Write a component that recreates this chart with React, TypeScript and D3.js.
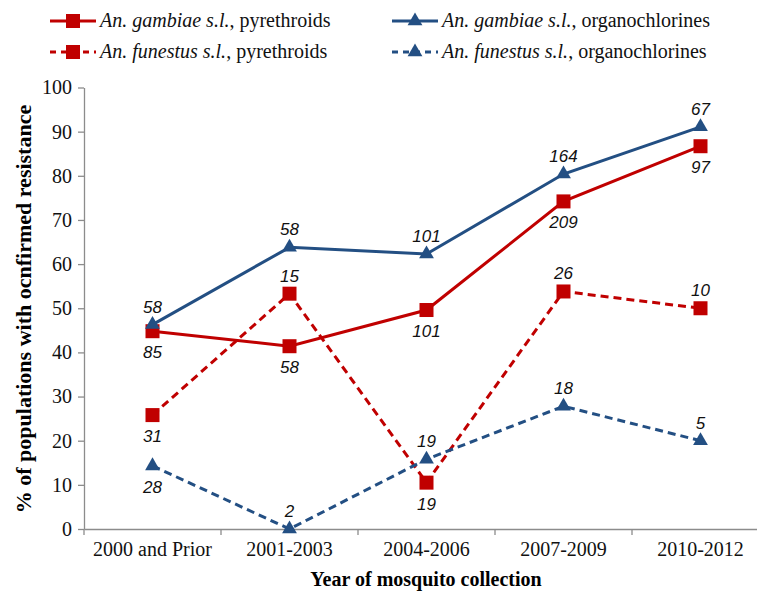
import React, { useEffect, useRef } from 'react'
import * as d3 from 'd3'

const categories = ['2000 and Prior', '2001-2003', '2004-2006', '2007-2009', '2010-2012']
const yTicks = [0, 10, 20, 30, 40, 50, 60, 70, 80, 90, 100]

const gambiaePyr = [44.8, 41.4, 49.6, 74.2, 86.7]
const gambiaeOrg = [46.3, 63.8, 62.3, 80.4, 91.1]
const funestusPyr = [25.8, 53.3, 10.5, 53.8, 50]
const funestusOrg = [14.3, 0, 15.8, 27.8, 20]

const gambiaePyrN = ['85', '58', '101', '209', '97']
const gambiaeOrgN = ['58', '58', '101', '164', '67']
const funestusPyrN = ['31', '15', '19', '26', '10']
const funestusOrgN = ['28', '2', '19', '18', '5']

// label side: 1 = below the point, -1 = above
const gambiaePyrSide = [1, 1, 1, 1, 1]
const gambiaeOrgSide = [-1, -1, -1, -1, -1]
const funestusPyrSide = [1, -1, 1, -1, -1]
const funestusOrgSide = [1, -1, -1, -1, -1]

const RED = '#C00000'
const BLUE = '#234F83'
const SERIF = 'Liberation Serif, Times New Roman, Times, serif'

const series = [
  { name: 'gambiae', insect: 'pyrethroids', values: gambiaePyr, n: gambiaePyrN, side: gambiaePyrSide, color: RED, dash: null, marker: 'square' },
  { name: 'gambiae', insect: 'organochlorines', values: gambiaeOrg, n: gambiaeOrgN, side: gambiaeOrgSide, color: BLUE, dash: null, marker: 'triangle' },
  { name: 'funestus', insect: 'pyrethroids', values: funestusPyr, n: funestusPyrN, side: funestusPyrSide, color: RED, dash: '8,5', marker: 'square' },
  { name: 'funestus', insect: 'organochlorines', values: funestusOrg, n: funestusOrgN, side: funestusOrgSide, color: BLUE, dash: '8,5', marker: 'triangle' }
]

const App = () => {
  const svgRef = useRef<SVGSVGElement>(null)

  useEffect(() => {
    const svg = d3.select(svgRef.current)
    svg.selectAll('*').remove()

    const left = 84
    const right = 769
    const top = 87.5
    const bottom = 529

    const x = d3.scaleBand().domain(categories).range([left, right])
    const y = d3.scaleLinear().domain([0, 100]).range([bottom, top])
    const cx = (i: number) => (x(categories[i]) as number) + x.bandwidth() / 2

    // y axis
    const yAxis = svg.append('g').attr('transform', `translate(${left},0)`)
      .call(d3.axisLeft(y).tickValues(yTicks).tickSize(6).tickSizeOuter(0))
    yAxis.attr('font-family', null).attr('font-size', null)
    yAxis.select('.domain').attr('stroke', '#8c8c8c').attr('stroke-width', 1.3)
    yAxis.selectAll('.tick line').attr('stroke', '#8c8c8c').attr('stroke-width', 1.3)
    yAxis.selectAll('.tick text')
      .style('font-family', SERIF)
      .style('font-size', '20px').attr('fill', '#111').attr('x', -12)

    // x axis
    const xAxis = svg.append('g').attr('transform', `translate(0,${bottom})`)
      .call(d3.axisBottom(x).tickSize(0).tickSizeOuter(0))
    xAxis.attr('font-family', null).attr('font-size', null)
    xAxis.select('.domain').attr('stroke', '#8c8c8c').attr('stroke-width', 1.3)
    xAxis.selectAll('.tick text')
      .style('font-family', SERIF)
      .style('font-size', '20px').attr('fill', '#111').attr('y', 13)
    const bounds = categories.map(c => x(c) as number).concat([right])
    svg.append('g').selectAll('line').data(bounds).enter().append('line')
      .attr('x1', d => d).attr('x2', d => d)
      .attr('y1', bottom).attr('y2', bottom + 6)
      .attr('stroke', '#8c8c8c').attr('stroke-width', 1.3)

    // axis titles
    svg.append('text')
      .attr('x', 426).attr('y', 586)
      .attr('text-anchor', 'middle')
      .style('font-family', SERIF)
      .style('font-weight', 'bold').style('font-size', '20px')
      .text('Year of mosquito collection')
    svg.append('text')
      .attr('transform', `translate(31,309) rotate(-90)`)
      .attr('text-anchor', 'middle')
      .style('font-family', SERIF)
      .style('font-weight', 'bold').style('font-size', '22px')
      .text('% of populations with ocnfirmed resistance')

    const line = d3.line<number>().x((d, i) => cx(i)).y(d => y(d))

    const drawMarker = (g: any, kind: string, px: number, py: number, color: string) => {
      if (kind === 'square') {
        g.append('rect').attr('x', px - 7).attr('y', py - 7)
          .attr('width', 14).attr('height', 14).attr('fill', color)
      } else {
        g.append('path')
          .attr('d', d3.symbol().type(d3.symbolTriangle).size(95)())
          .attr('transform', `translate(${px},${py})`)
          .attr('fill', color)
      }
    }

    series.forEach(s => {
      const g = svg.append('g')
      g.append('path').datum(s.values)
        .attr('d', line)
        .attr('fill', 'none')
        .attr('stroke', s.color)
        .attr('stroke-width', 3)
        .attr('stroke-dasharray', s.dash)
      s.values.forEach((v, i) => drawMarker(g, s.marker, cx(i), y(v), s.color))
      g.selectAll('text.lbl').data(s.values).enter().append('text')
        .attr('class', 'lbl')
        .attr('x', (d, i) => cx(i))
        .attr('y', (d, i) => y(d) + (s.side[i] > 0 ? 27 : -12))
        .attr('text-anchor', 'middle')
        .style('font-family', 'Liberation Sans, Arial, sans-serif')
        .style('font-style', 'italic').style('font-size', '17px')
        .attr('fill', '#111')
        .text((d, i) => s.n[i])
    })

    // legend
    const legendPos = [
      [50, 21], [392, 21], [50, 52], [392, 52]
    ]
    series.forEach((s, i) => {
      const [lx, ly] = legendPos[i]
      const g = svg.append('g')
      g.append('line')
        .attr('x1', lx).attr('x2', lx + 46).attr('y1', ly).attr('y2', ly)
        .attr('stroke', s.color).attr('stroke-width', 3)
        .attr('stroke-dasharray', s.dash ? '6,5' : null)
      drawMarker(g, s.marker, lx + 23, ly, s.color)
      const t = g.append('text')
        .attr('x', lx + 50).attr('y', ly + 6)
        .style('font-family', SERIF)
        .style('font-size', '20px').attr('fill', '#111')
      t.append('tspan').style('font-style', 'italic').text(`An. ${s.name} s.l.`)
      t.append('tspan').text(`, ${s.insect}`)
    })
  }, [])

  return (
    <svg ref={svgRef} width={757} height={591}
      style={{ position: 'absolute', left: 0, top: 0, background: '#fff' }} />
  )
}

export default App
